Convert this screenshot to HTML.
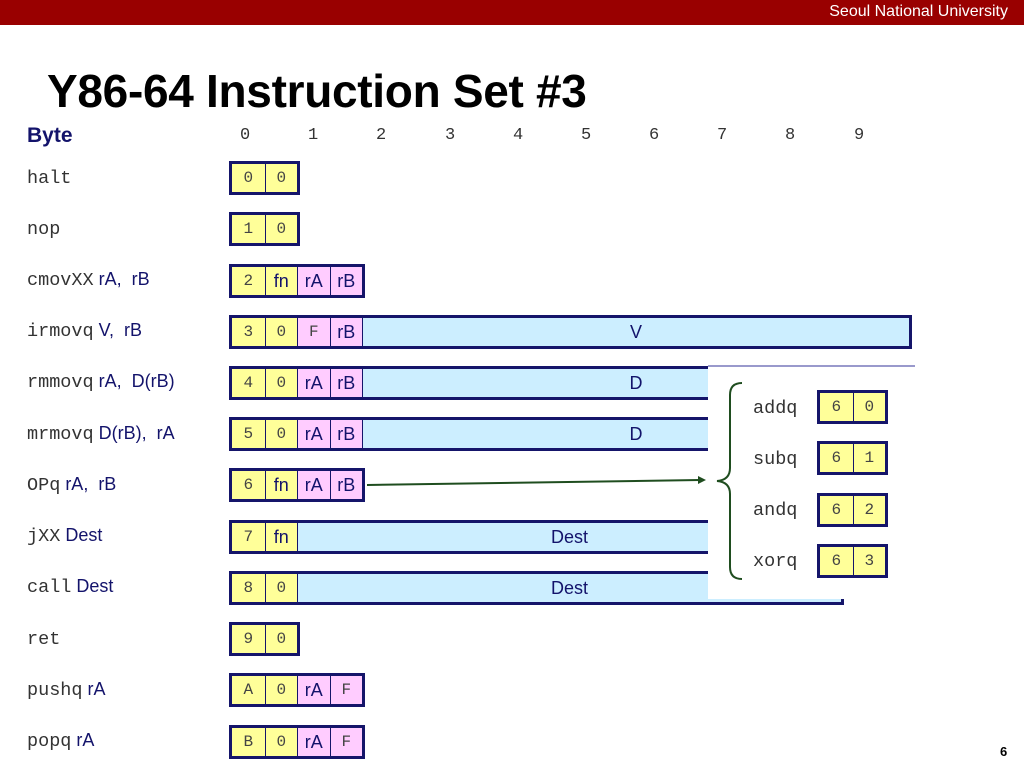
<!DOCTYPE html>
<html><head><meta charset="utf-8"><style>
body{margin:0;width:1024px;height:768px;position:relative;background:#fff;overflow:hidden;font-family:"Liberation Sans",sans-serif}
.hdr{position:absolute;left:0;top:0;width:1024px;height:25px;background:#990000}
.hdr span{position:absolute;right:16px;top:3px;color:#fff;font-size:16px}
.title{position:absolute;left:47px;top:64px;font-size:46px;font-weight:bold;color:#000;letter-spacing:-0.3px}
.byte{position:absolute;left:27px;top:124px;font-size:21px;font-weight:bold;color:#13136b}
.num{position:absolute;top:126px;font-family:"Liberation Mono",monospace;font-size:17px;color:#333}
.lbl{position:absolute;left:27px;font-size:18px;color:#13136b;white-space:pre}
.lbl m,.mn{font-family:"Liberation Mono",monospace;font-size:18.5px;color:#333}
.row{position:absolute;left:229px;height:28px;border:3px solid #15156a;display:flex;background:#fff}
.row span{width:32.5px;height:28px;line-height:28px;text-align:center;font-size:18px;color:#13136b;border-left:1px solid #15156a;box-sizing:border-box;flex:none}
.row span:first-child{border-left:none}
.y{background:#ffff99}.p{background:#ffccff}.b{background:#cceeff;flex:1 1 auto !important;width:auto !important}
.mo{font-family:"Liberation Mono",monospace;font-size:16px !important;color:#444 !important}
.panel{position:absolute;left:708px;top:365px;width:207px;height:232px;background:#fff;border-top:2px solid #9999cc}
</style></head><body>
<div class="hdr"><span>Seoul National University</span></div>
<div class="title">Y86-64 Instruction Set #3</div>
<div class="byte">Byte</div>
<div class="num" style="left:240px">0</div><div class="num" style="left:308px">1</div><div class="num" style="left:376px">2</div><div class="num" style="left:445px">3</div><div class="num" style="left:513px">4</div><div class="num" style="left:581px">5</div><div class="num" style="left:649px">6</div><div class="num" style="left:717px">7</div><div class="num" style="left:785px">8</div><div class="num" style="left:854px">9</div>

<div class="lbl" style="top:167px"><m>halt</m></div>
<div class="lbl" style="top:218px"><m>nop</m></div>
<div class="lbl" style="top:269px"><m>cmovXX</m> rA,  rB</div>
<div class="lbl" style="top:320px"><m>irmovq</m> V,  rB</div>
<div class="lbl" style="top:371px"><m>rmmovq</m> rA,  D(rB)</div>
<div class="lbl" style="top:423px"><m>mrmovq</m> D(rB),  rA</div>
<div class="lbl" style="top:474px"><m>OPq</m> rA,  rB</div>
<div class="lbl" style="top:525px"><m>jXX</m> Dest</div>
<div class="lbl" style="top:576px"><m>call</m> Dest</div>
<div class="lbl" style="top:628px"><m>ret</m></div>
<div class="lbl" style="top:679px"><m>pushq</m> rA</div>
<div class="lbl" style="top:730px"><m>popq</m> rA</div>

<div class="row" style="top:161px"><span class="y mo">0</span><span class="y mo">0</span></div>
<div class="row" style="top:212px"><span class="y mo">1</span><span class="y mo">0</span></div>
<div class="row" style="top:264px"><span class="y mo">2</span><span class="y">fn</span><span class="p">rA</span><span class="p">rB</span></div>
<div class="row" style="top:315px;width:677px"><span class="y mo">3</span><span class="y mo">0</span><span class="p mo">F</span><span class="p">rB</span><span class="b">V</span></div>
<div class="row" style="top:366px;width:677px"><span class="y mo">4</span><span class="y mo">0</span><span class="p">rA</span><span class="p">rB</span><span class="b">D</span></div>
<div class="row" style="top:417px;width:677px"><span class="y mo">5</span><span class="y mo">0</span><span class="p">rA</span><span class="p">rB</span><span class="b">D</span></div>
<div class="row" style="top:468px"><span class="y mo">6</span><span class="y">fn</span><span class="p">rA</span><span class="p">rB</span></div>
<div class="row" style="top:520px;width:609px"><span class="y mo">7</span><span class="y">fn</span><span class="b">Dest</span></div>
<div class="row" style="top:571px;width:609px"><span class="y mo">8</span><span class="y mo">0</span><span class="b">Dest</span></div>
<div class="row" style="top:622px"><span class="y mo">9</span><span class="y mo">0</span></div>
<div class="row" style="top:673px"><span class="y mo">A</span><span class="y mo">0</span><span class="p">rA</span><span class="p mo">F</span></div>
<div class="row" style="top:725px"><span class="y mo">B</span><span class="y mo">0</span><span class="p">rA</span><span class="p mo">F</span></div>

<div class="panel"></div>
<div class="mn" style="position:absolute;left:753px;top:398px">addq</div>
<div class="mn" style="position:absolute;left:753px;top:449px">subq</div>
<div class="mn" style="position:absolute;left:753px;top:500px">andq</div>
<div class="mn" style="position:absolute;left:753px;top:551px">xorq</div>
<div class="row" style="left:817px;top:390px"><span class="y mo">6</span><span class="y mo">0</span></div>
<div class="row" style="left:817px;top:441px"><span class="y mo">6</span><span class="y mo">1</span></div>
<div class="row" style="left:817px;top:493px"><span class="y mo">6</span><span class="y mo">2</span></div>
<div class="row" style="left:817px;top:544px"><span class="y mo">6</span><span class="y mo">3</span></div>

<svg style="position:absolute;left:0;top:0" width="1024" height="768">
<line x1="367" y1="485" x2="700" y2="480" stroke="#1f4d1f" stroke-width="2"/>
<polygon points="706,480 698,476 698,484" fill="#1f4d1f"/>
<path d="M742,383 Q730,383 730,395 L730,468 Q730,480 717,481 Q730,482 730,494 L730,567 Q730,579 742,579" fill="none" stroke="#1f4d1f" stroke-width="2"/>
</svg>
<div style="position:absolute;left:1000px;top:744px;font-size:13px;font-weight:bold;color:#000">6</div>
</body></html>
